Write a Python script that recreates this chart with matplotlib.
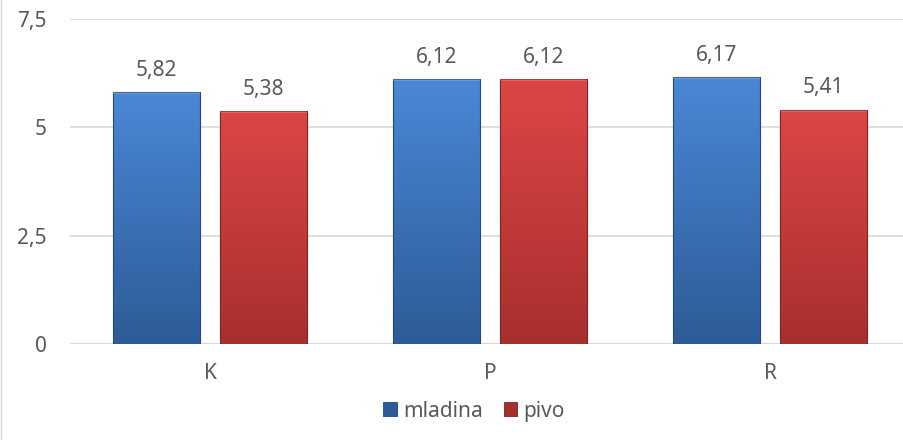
import numpy as np
import matplotlib
matplotlib.use("Agg")
import matplotlib.pyplot as plt
from matplotlib.patches import Patch, Rectangle
from matplotlib.lines import Line2D
from matplotlib.colors import LinearSegmentedColormap

plt.rcParams['font.family'] = ['Noto Sans', 'DejaVu Sans']

# --- data ---
categories = ["K", "P", "R"]
series_names = ["mladina", "pivo"]
mladina = [5.82, 6.12, 6.17]
pivo = [5.38, 6.12, 5.41]
yticks = [0, 2.5, 5, 7.5]

# top / bottom colours of the gradient bars
grad_colors = {
    "mladina": ("#4a88d6", "#2d5b97"),
    "pivo": ("#de4646", "#a72f2e"),
}
edge_colors = {"mladina": "#23487a", "pivo": "#7e2222"}

def fmt(v):
    s = f"{v:g}"
    return s.replace(".", ",")

fig = plt.figure(figsize=(9.04, 4.4), dpi=100)
# chart-area border, only the left side is visible in the crop
fig.lines.append(Line2D([0.0015, 0.0015], [0, 1], transform=fig.transFigure,
                        color="#d9d9d9", lw=1.0))
ax = fig.add_axes([70 / 904, (440 - 344) / 440, 840 / 904, 325 / 440])

x = np.arange(len(categories))
width = 0.314
offset = 0.191
fs = 15

def gradient_bars(bars, name):
    top, bot = grad_colors[name]
    cmap = LinearSegmentedColormap.from_list(name, [bot, top])
    grad = np.linspace(0, 1, 256).reshape(-1, 1)
    for b in bars:
        bx, by = b.get_x(), b.get_y()
        w, h = b.get_width(), b.get_height()
        b.set_facecolor("none")
        im = ax.imshow(grad, extent=[bx, bx + w, by, by + h], origin="lower",
                       cmap=cmap, aspect="auto", zorder=2)
        im.set_clip_path(b)
        # light bevel on top
        ax.add_patch(Rectangle((bx, by + h - 0.06), w, 0.06, facecolor="white",
                               alpha=0.18, lw=0, zorder=3))

for vals, name, sign in [(mladina, "mladina", -1), (pivo, "pivo", 1)]:
    bars = ax.bar(x + sign * offset, vals, width, edgecolor=edge_colors[name],
                  linewidth=0.8, zorder=3)
    gradient_bars(bars, name)
    for xi, v in zip(x + sign * offset, vals):
        ax.annotate(fmt(v), (xi, v), xytext=(0, 8), textcoords="offset points",
                    ha="center", va="bottom", fontsize=fs, color="#595959")

ax.set_xlim(-0.5, len(categories) - 0.5)
ax.set_ylim(0, 7.5)
ax.set_yticks(yticks)
ax.set_yticklabels([fmt(t) for t in yticks])
ax.set_xticks(x)
ax.set_xticklabels(categories)
ax.tick_params(axis="both", length=0, labelsize=fs, labelcolor="#595959")
ax.tick_params(axis="y", pad=17)
ax.tick_params(axis="x", pad=14)
ax.grid(axis="y", color="#d9d9d9", lw=1.2, zorder=0)
ax.set_axisbelow(True)
for s in ax.spines.values():
    s.set_visible(False)
ax.axhline(0, color="#d9d9d9", lw=1.5, zorder=1)

handles = [Patch(facecolor=grad_colors[n][1], edgecolor=edge_colors[n], lw=0.6)
           for n in series_names]
leg = fig.legend(handles, series_names, loc="center", bbox_to_anchor=(474 / 904, 29 / 440),
                 ncol=2, frameon=False, handlelength=0.65, handleheight=0.65,
                 handletextpad=0.3, columnspacing=1.0, fontsize=fs)
for t in leg.get_texts():
    t.set_color("#595959")

fig.savefig("out.png", dpi=100)
